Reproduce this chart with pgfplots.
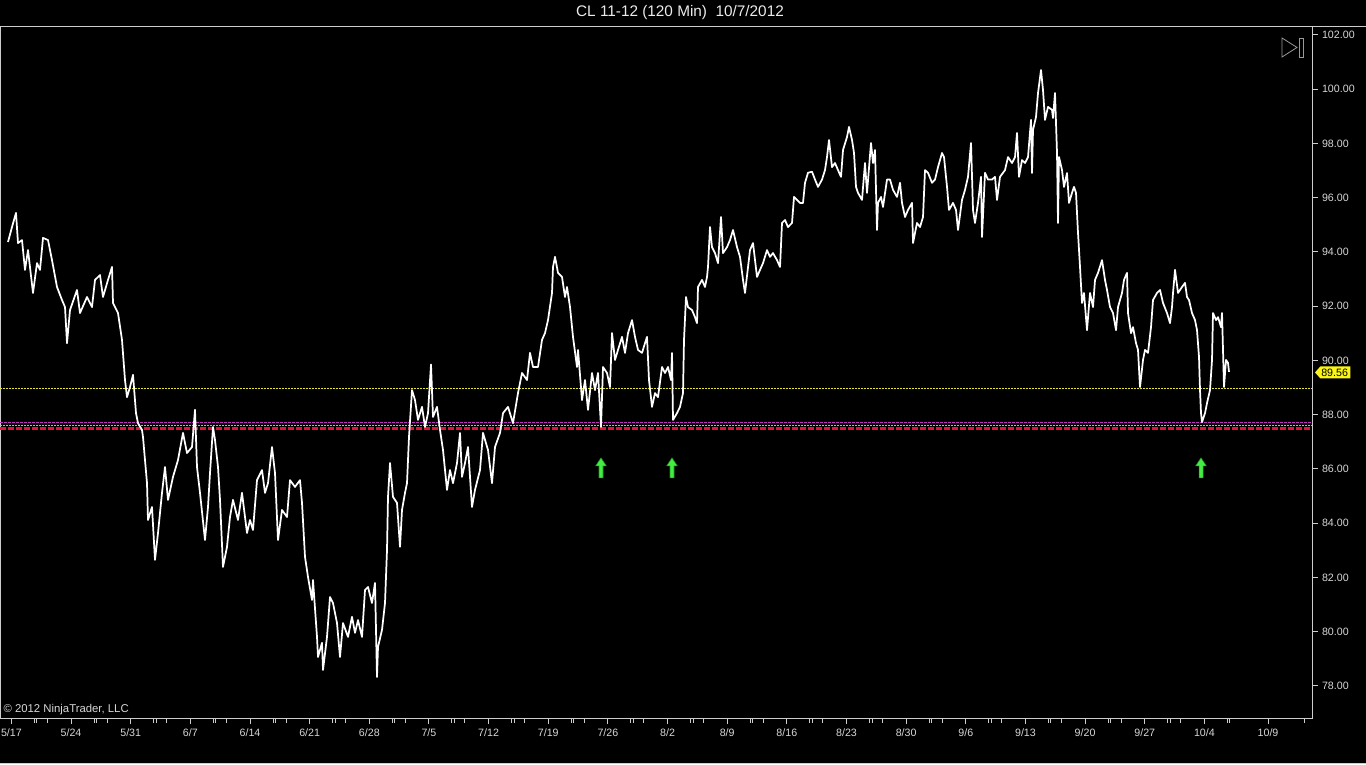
\documentclass[border=0pt]{standalone}
\usepackage{fontspec}
\setmainfont{Liberation Sans}
\usepackage{pgfplots}
\pgfplotsset{compat=1.18}

\definecolor{framegray}{RGB}{205,205,205}
\definecolor{labelgray}{RGB}{215,215,215}
\definecolor{lvlyellow}{RGB}{230,230,40}
\definecolor{lvlmagenta}{RGB}{190,50,190}
\definecolor{lvlpink}{RGB}{235,150,205}
\definecolor{lvlred}{RGB}{225,20,60}
\definecolor{arrowgreen}{RGB}{70,235,70}
\definecolor{arrowedge}{RGB}{30,150,30}
\definecolor{tagyellow}{RGB}{250,245,20}

% up arrow used for the signal marks
\pgfdeclareplotmark{uparrow}{%
  \pgfpathmoveto{\pgfpoint{0pt}{7.5pt}}%
  \pgfpathlineto{\pgfpoint{4pt}{1.5pt}}%
  \pgfpathlineto{\pgfpoint{1.5pt}{1.5pt}}%
  \pgfpathlineto{\pgfpoint{1.5pt}{-7.5pt}}%
  \pgfpathlineto{\pgfpoint{-1.5pt}{-7.5pt}}%
  \pgfpathlineto{\pgfpoint{-1.5pt}{1.5pt}}%
  \pgfpathlineto{\pgfpoint{-4pt}{1.5pt}}%
  \pgfpathclose
  \pgfusepathqfillstroke
}

% CL 11-12, 120 min bars; x = bar index (about one bar per pixel)
\pgfplotstableread{
x y
8 94.37
12 94.92
16 95.44
18 94.33
22 94.44
25 93.34
28 94.07
33 92.49
37 93.59
40 93.34
43 94.52
48 94.44
52 93.70
57 92.71
62 92.23
65 91.97
67 90.64
70 91.86
77 92.60
80 91.75
87 92.34
92 91.97
95 92.97
100 93.15
103 92.34
108 92.97
112 93.45
113 92.12
118 91.75
122 90.76
125 89.28
127 88.65
130 89.02
133 89.47
136 88.06
138 87.69
142 87.44
143 87.18
147 85.48
148 84.12
152 84.60
155 82.65
158 83.64
162 85.12
165 86.07
168 84.86
173 85.71
178 86.33
183 87.33
187 86.59
192 86.81
195 88.18
197 86.07
200 85.12
205 83.38
208 84.60
210 85.85
213 87.55
215 87.07
218 86.07
220 84.86
223 82.39
227 83.13
230 84.23
233 84.86
238 84.12
242 85.12
247 83.64
250 84.12
253 83.75
257 85.59
262 85.96
265 85.12
268 85.48
272 86.81
275 85.85
278 83.38
282 84.49
287 84.23
290 85.59
295 85.34
300 85.59
302 84.75
305 82.76
308 82.02
312 81.17
313 81.91
317 79.81
318 79.07
322 79.59
323 78.59
327 79.81
330 81.28
333 81.06
337 80.32
340 79.07
343 80.32
348 79.81
352 80.55
355 79.96
358 80.43
362 79.81
365 81.54
368 81.65
372 81.06
375 81.80
377 78.33
378 79.44
382 80.07
385 81.06
387 83.01
388 84.97
390 86.22
393 84.97
397 84.75
400 83.13
402 84.49
405 85.12
407 85.48
409 87.18
412 88.91
415 88.54
418 87.81
422 88.29
425 87.55
428 88.06
431 89.85
433 87.92
437 88.29
440 87.44
443 86.70
447 85.23
450 85.96
453 85.48
457 86.22
460 87.33
462 85.71
465 86.22
468 86.81
470 85.71
472 84.60
475 85.23
480 85.96
483 87.33
488 86.70
492 85.48
495 86.81
500 87.33
503 88.06
508 88.29
513 87.69
518 88.80
522 89.54
527 89.28
530 90.28
533 89.76
538 89.76
542 90.76
545 91.01
548 91.49
552 92.49
553 93.45
555 93.82
558 93.23
562 93.08
565 92.34
567 92.71
570 91.97
573 90.87
577 89.76
578 90.39
582 88.54
585 89.28
588 88.18
592 89.54
595 88.91
598 89.54
601 87.55
603 89.76
607 89.54
610 89.02
612 91.01
615 90.02
618 90.39
622 90.87
625 90.28
628 91.01
632 91.49
635 90.87
638 90.39
642 90.28
645 90.64
647 90.87
649 89.28
652 88.29
655 88.80
658 88.65
662 89.76
665 89.54
668 89.76
671 89.28
672 90.28
673 87.81
677 88.06
680 88.29
683 88.80
684 90.76
686 92.34
688 91.97
692 91.86
695 91.60
697 91.38
698 92.71
702 92.97
705 92.71
707 93.08
708 93.45
710 94.92
712 94.18
715 93.96
718 93.59
721 95.29
723 93.96
727 94.18
730 94.44
733 94.81
737 94.18
740 93.82
743 92.97
745 92.49
750 94.07
753 94.33
757 93.08
760 93.34
763 93.59
767 94.07
770 93.82
773 93.96
777 93.70
780 93.45
782 95.07
785 95.18
788 94.92
792 95.07
794 96.03
797 95.92
800 95.81
803 95.81
805 96.55
808 96.92
812 96.96
815 96.67
818 96.40
822 96.67
825 97.02
827 97.50
829 98.13
832 97.13
835 97.28
838 97.02
841 96.77
843 97.76
847 98.24
849 98.61
852 98.13
854 97.65
856 96.40
858 96.18
862 95.92
865 97.28
867 96.18
871 98.02
873 97.28
875 97.76
877 94.81
878 95.81
881 96.03
883 95.66
887 96.67
890 96.67
893 96.29
897 96.03
900 96.55
902 95.81
905 95.29
908 95.55
912 95.81
913 94.33
917 95.07
920 94.92
923 95.29
925 97.02
928 96.92
932 96.55
935 96.67
938 97.13
942 97.65
944 97.50
947 96.40
949 95.55
953 95.81
956 95.55
958 94.81
962 95.92
965 96.29
968 96.77
971 98.02
973 95.55
975 95.07
978 95.81
981 96.77
982 94.55
985 96.92
988 96.67
992 96.67
995 96.77
997 95.92
1000 96.77
1003 96.92
1005 97.02
1008 97.50
1012 97.28
1015 97.50
1017 98.39
1019 96.77
1022 97.39
1025 97.28
1028 97.50
1031 98.87
1032 96.91
1033 98.50
1036 98.98
1038 99.86
1041 100.71
1043 99.97
1045 98.87
1048 99.35
1052 99.24
1053 98.94
1055 99.86
1057 97.65
1058 95.07
1059 97.50
1062 97.02
1064 96.40
1067 96.91
1069 95.81
1072 96.18
1074 96.40
1076 96.18
1078 94.70
1080 93.45
1082 92.12
1084 92.49
1087 91.12
1090 92.49
1093 91.97
1095 92.97
1098 93.23
1102 93.70
1105 92.97
1107 92.60
1110 91.97
1113 91.75
1116 91.12
1118 91.97
1122 92.49
1124 92.97
1127 93.23
1128 91.75
1131 91.01
1133 91.23
1136 90.64
1138 90.39
1140 89.02
1143 90.02
1145 90.39
1148 90.28
1151 91.23
1153 92.23
1157 92.49
1160 92.60
1163 92.12
1167 91.75
1170 91.38
1172 91.97
1173 92.49
1175 93.34
1178 92.49
1182 92.71
1185 92.86
1187 92.34
1189 92.23
1192 91.75
1195 91.49
1197 91.12
1199 90.13
1200 88.91
1201 88.06
1202 87.73
1205 88.06
1207 88.43
1210 88.91
1212 90.02
1213 91.75
1216 91.49
1218 91.60
1221 91.23
1222 91.75
1224 89.02
1226 90.02
1228 89.91
1229 89.58
}\pricedata

\begin{document}
\begin{tikzpicture}
\useasboundingbox (0pt,0pt) rectangle (1024.5pt,573pt);
\fill[black] (0pt,0pt) rectangle (1024.5pt,573pt);
% frame lines of the window
\draw[framegray, line width=0.75pt] (0pt,552.75pt) -- (1024.5pt,552.75pt);
\draw[framegray, line width=0.75pt] (0pt,0.4pt) -- (1024.5pt,0.4pt);
% title
\node[text=white!92!black, font=\fontsize{11.5}{13}\selectfont] at (510pt,563.5pt) {CL 11-12 (120 Min)\ \ 10/7/2012};

\begin{axis}[
  at={(0pt,34.5pt)}, anchor=south west,
  width=984pt, height=518.25pt, scale only axis,
  xmin=0, xmax=1312, ymin=76.82, ymax=102.295,
  axis line style={framegray, line width=0.75pt},
  tick style={framegray, line width=0.75pt},
  tick align=outside,
  xtick pos=left, ytick pos=right, yticklabel pos=right,
  major tick length=4.5pt, minor tick length=3.5pt,
  xtick={11.4,71.05,130.7,190.35,250,309.65,369.3,428.95,488.6,548.25,607.9,667.55,727.2,786.85,846.5,906.15,965.8,1025.45,1085.1,1144.75,1204.4,1268},
  xticklabels={5/17,5/24,5/31,6/7,6/14,6/21,6/28,7/5,7/12,7/19,7/26,8/2,8/9,8/16,8/23,8/30,9/6,9/13,9/20,9/27,10/4,10/9},
  minor xtick={34.4,36.9,47.4,94.05,96.55,107.05,153.7,156.2,166.7,213.35,215.85,226.35,273,275.5,286,332.65,335.15,345.65,392.3,394.8,405.3,451.95,454.45,464.95,511.6,514.1,524.6,571.25,573.75,584.25,630.9,633.4,643.9,690.55,693.05,703.55,750.2,752.7,763.2,809.85,812.35,822.85,869.5,872,882.5,929.15,931.65,942.15,988.8,991.3,1001.8,1048.45,1050.95,1061.45,1108.1,1110.6,1121.1,1167.75,1170.25,1180.75,1227.4,1229.9,1304},
  ytick={78,80,82,84,86,88,90,92,94,96,98,100,102},
  yticklabels={78.00,80.00,82.00,84.00,86.00,88.00,90.00,92.00,94.00,96.00,98.00,100.00,102.00},
  ticklabel style={font=\fontsize{8}{9.5}\selectfont, text=labelgray},
  yticklabel style={anchor=west, xshift=-0.5pt},
  clip=false,
]
% horizontal levels
\addplot[lvlyellow, line width=0.75pt, dash pattern=on 1.5pt off 0.75pt] coordinates {(0,88.97) (1312,88.97)};
\addplot[lvlmagenta, line width=0.75pt, dash pattern=on 2.25pt off 0.75pt] coordinates {(0,87.72) (1312,87.72)};
\addplot[lvlpink, line width=0.5pt, dash pattern=on 1.5pt off 0.75pt] coordinates {(0,87.60) (1312,87.60)};
\addplot[lvlred, line width=1.9pt, dash pattern=on 4.5pt off 1.5pt] coordinates {(0,87.50) (1312,87.50)};
% price
\addplot[white, line width=1.3pt, line join=round] table[x=x, y=y] {\pricedata};
% signal arrows
\addplot[only marks, mark=uparrow, mark options={fill=arrowgreen, draw=arrowedge, line width=0.4pt}] coordinates {(601,86.04) (672,86.04) (1201,86.04)};
\coordinate (tag) at (axis cs:1312,89.56);
\end{axis}

% last price tag
\fill[tagyellow] ([xshift=2.25pt]tag) -- ++(4pt,4.5pt) -- ++(22.5pt,0pt) -- ++(0pt,-9pt) -- ++(-22.5pt,0pt) -- cycle;
\node[anchor=west, inner sep=0pt, font=\fontsize{8}{9.5}\selectfont, text=black] at ([xshift=6.75pt]tag) {89.56};

% copyright
\node[anchor=south west, inner sep=0pt, text=labelgray, font=\fontsize{8.5}{10}\selectfont] at (2.5pt,36.5pt) {© 2012 NinjaTrader, LLC};

% chart icon at top right
\draw[gray!80, line width=0.6pt] (961.5pt,544.5pt) -- (961.5pt,530.25pt) -- (972.75pt,537.4pt) -- cycle;
\draw[gray!80, line width=0.6pt] (974.25pt,530.25pt) rectangle (977.25pt,544.5pt);
\end{tikzpicture}
\end{document}
